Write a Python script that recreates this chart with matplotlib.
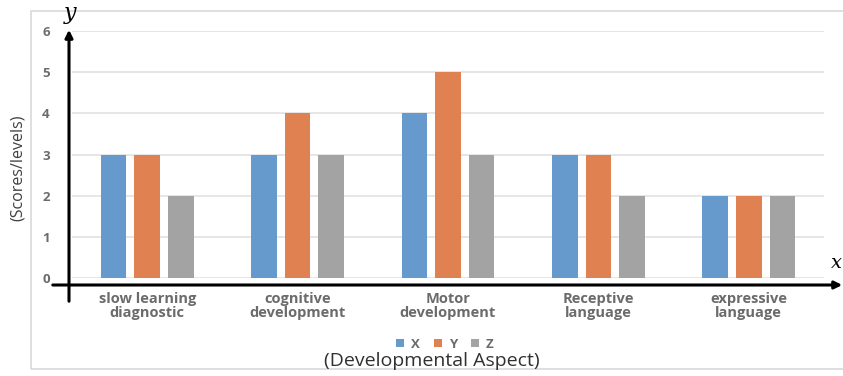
import matplotlib
matplotlib.use("Agg")
import matplotlib.pyplot as plt
import numpy as np
from matplotlib.patches import Rectangle, FancyArrowPatch

categories = ["slow learning\ndiagnostic", "cognitive\ndevelopment", "Motor\ndevelopment",
              "Receptive\nlanguage", "expressive\nlanguage"]
series_names = ["X", "Y", "Z"]
x_values = [3, 3, 4, 3, 2]
y_values = [3, 4, 5, 3, 2]
z_values = [2, 3, 3, 2, 2]
y_ticks = [0, 1, 2, 3, 4, 5, 6]

colors = ["#6699CC", "#DF8150", "#A3A3A3"]
tick_color = "#6b6b6b"

plt.rcParams["font.family"] = ["Open Sans", "DejaVu Sans"]

W, H = 843, 376
fig = plt.figure(figsize=(W / 100, H / 100), dpi=100)

def fx(px):
    return px / W

def fy(py):
    return 1 - py / H

# outer chart frame
fig.patches.append(Rectangle((fx(31), fy(369)), fx(W + 5) - fx(31), fy(11) - fy(369),
                             transform=fig.transFigure, fill=False,
                             edgecolor="#d9d9d9", linewidth=1.2))

ax = fig.add_axes([fx(72), fy(278), fx(824) - fx(72), fy(31) - fy(278)])
ax.set_xlim(-0.5, 4.5)
ax.set_ylim(0, 6)

pos = np.arange(len(categories))
width = 0.17
offset = 0.223
for i, (vals, name) in enumerate(zip([x_values, y_values, z_values], series_names)):
    ax.bar(pos + (i - 1) * offset, vals, width, color=colors[i], label=name, zorder=3)

ax.set_yticks(y_ticks)
ax.yaxis.grid(True, color="#e6e6e6", linewidth=1.4, zorder=0)
ax.set_xticks(pos)
ax.set_xticklabels(categories, fontsize=10.5, fontweight="bold", color=tick_color,
                   linespacing=1.05)
ax.tick_params(axis="x", length=0, pad=10)
ax.tick_params(axis="y", length=0, pad=16, labelsize=9.5, labelcolor=tick_color)
for lbl in ax.get_yticklabels():
    lbl.set_fontweight("bold")
for s in ax.spines.values():
    s.set_visible(False)

# black coordinate axes with arrows
fig.add_artist(FancyArrowPatch(
    (fx(50), fy(285)), (fx(845), fy(285)), transform=fig.transFigure,
    arrowstyle="-|>", mutation_scale=11, color="black", linewidth=2.2))
fig.add_artist(FancyArrowPatch(
    (fx(69), fy(304)), (fx(69), fy(27)), transform=fig.transFigure,
    arrowstyle="-|>", mutation_scale=11, color="black", linewidth=2.2))
fig.text(fx(70), fy(13), "y", fontsize=16, style="italic", family="DejaVu Serif",
         ha="center", va="center")
fig.text(fx(836), fy(263), "x", fontsize=14, style="italic", family="DejaVu Serif",
         ha="center", va="center")

fig.text(fx(18), fy(168), "(Scores/levels)", rotation=90, fontsize=11.5,
         color="#404040", ha="center", va="center")
fig.text(fx(432), fy(361), "(Developmental Aspect)", fontsize=14,
         color="#303030", ha="center", va="center")

fig.legend(loc="center", bbox_to_anchor=(fx(445), fy(344)), ncol=3, frameon=False,
           handlelength=0.6, handleheight=0.5, handletextpad=0.5,
           columnspacing=1.1, labelcolor=tick_color, borderpad=0, borderaxespad=0,
           prop={"weight": "bold", "size": 9.5})

fig.savefig("out.png", dpi=100)
